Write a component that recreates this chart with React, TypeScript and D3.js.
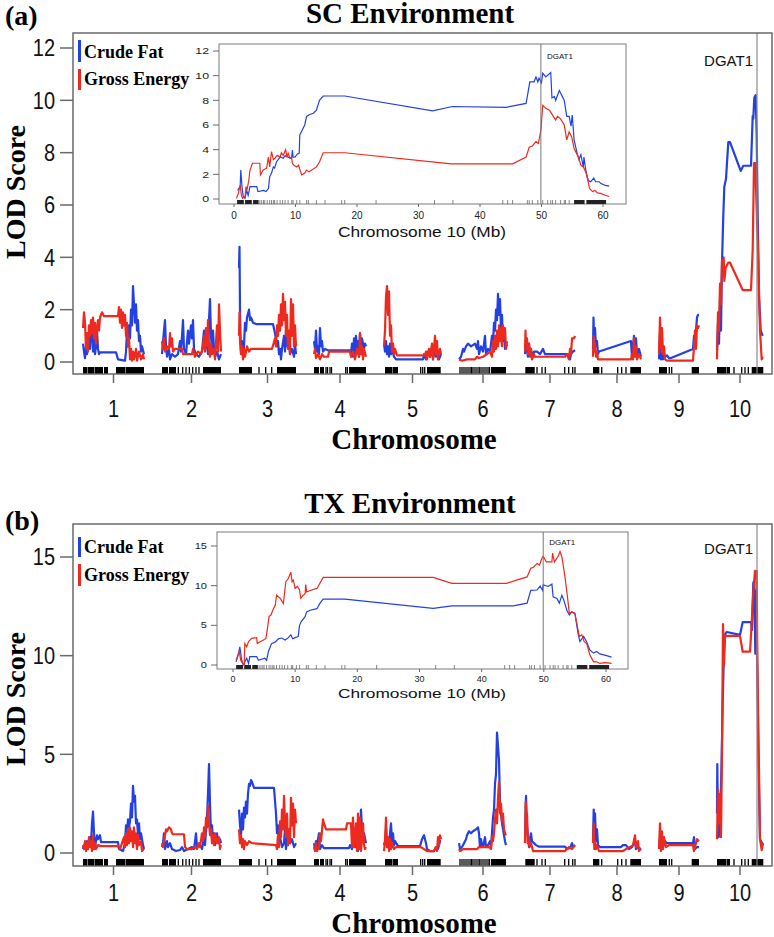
import React from 'react';
import * as d3 from 'd3';

type Pt = [number, number];

// genome layout (map units per chromosome)
const chromosomes = ['1', '2', '3', '4', '5', '6', '7', '8', '9', '10'];
const chrLengths = [61, 59, 57, 52, 57, 48, 50, 48, 40, 46];
const chrGap = 18;
const dgat1Pos = 40; // position on chr 10 (map units)
const dgat1Mb = 49.9;

// SC environment, LOD per chromosome: [position, LOD]
const scCrudeFat: Pt[][] = [
  [[0,0.7],[1,0.4],[2,0.15],[3,0.6],[4,0.3],[6,1.0],[7,0.5],[9,1.6],[10,0.4],[11,0.9],[12,0.3],[13,0.6],[14,1.2],[15,0.5],[16,0.3],[17,0.37],[33,0.37],[35,0.1],[42,0.05],[43,0.4],[44,1.2],[45,0.6],[46,1.4],[47,0.9],[48,2.0],[49,1.4],[50,2.9],[51,2.2],[52,1.5],[53,2.2],[54,1.2],[55,1.6],[56,0.8],[57,1.0],[58,0.4],[59,0.6],[61,0.3]],
  [[0,0.3],[1,0.8],[3,1.6],[4,0.6],[5,0.2],[7,0.5],[8,0.1],[10,0.3],[13,0.2],[16,0.3],[18,0.8],[19,0.4],[21,1.6],[22,0.5],[24,0.3],[26,1.2],[27,0.7],[29,1.4],[30,0.9],[31,1.6],[32,0.5],[34,0.3],[37,0.2],[40,0.4],[42,1.2],[43,0.5],[44,1.0],[46,0.3],[47,1.6],[48,2.4],[49,1.0],[50,0.4],[51,1.2],[52,0.5],[53,0.2],[55,0.4],[57,0.1],[59,0.3]],
  [[0,3.6],[0.5,4.4],[1,2.0],[1.5,1.0],[2,0.4],[3,0.8],[4,0.3],[5,0.6],[6,1.5],[7,1.2],[8,1.7],[10,2.0],[11,1.6],[12,1.7],[14,1.5],[17,1.45],[34,1.45],[36,1.1],[38,0.6],[39,0.8],[40,0.3],[41,0.5],[42,0.1],[43,0.5],[45,1.0],[46,0.4],[47,1.2],[48,0.6],[50,0.9],[51,0.3],[53,0.5],[55,0.2],[56,0.7],[57,0.3]],
  [[0,0.8],[1,0.5],[2,1.2],[3,0.4],[4,0.6],[5,0.3],[6,1.3],[7,0.6],[8,0.8],[9,0.4],[11,0.5],[14,0.45],[36,0.45],[37,0.3],[38,0.7],[39,0.2],[40,0.9],[41,0.3],[42,1.0],[43,0.5],[44,0.8],[45,0.2],[46,1.1],[47,0.4],[48,0.9],[50,0.5],[51,0.7],[52,0.6]],
  [[0,0.7],[1,0.4],[2,0.8],[3,0.3],[4,0.6],[5,0.2],[6,0.7],[7,0.3],[8,0.5],[10,0.2],[12,0.1],[39,0.1],[40,0.3],[42,0.1],[44,0.4],[46,0.2],[48,0.5],[49,0.1],[51,0.6],[52,0.2],[54,0.4],[55,0.1],[57,0.3]],
  [[0,0.1],[2,0.2],[4,0.5],[5,0.4],[7,0.6],[9,0.7],[12,0.6],[16,0.7],[18,0.5],[19,0.8],[20,0.3],[22,0.6],[24,0.4],[26,1.0],[27,0.3],[29,0.5],[31,0.4],[33,1.0],[34,0.7],[35,1.5],[36,1.2],[37,2.0],[38,1.6],[39,2.6],[40,1.8],[41,2.4],[42,1.2],[43,1.8],[44,0.8],[45,1.2],[46,0.5],[47,0.7],[48,0.6]],
  [[0,0.3],[1,0.9],[2,0.5],[3,0.2],[4,0.7],[5,0.3],[6,0.5],[7,0.2],[9,0.4],[12,0.4],[15,0.3],[18,0.5],[20,0.3],[43,0.3],[45,0.1],[46,0.3],[48,0.4],[50,0.45]],
  [[0,0.5],[0.5,1.7],[1,1.0],[2,1.3],[3,0.6],[4,0.8],[5,0.3],[6,0.4],[38,0.8],[39,0.2],[40,0.6],[41,1.0],[42,0.3],[43,0.9],[44,0.3],[46,0.5],[48,0.2]],
  [[0,0.1],[1,1.1],[2,0.1],[3,0.3],[4,0.1],[5,0.3],[6,0.2],[8,0.25],[10,0.15],[12,0.15],[34,0.5],[35,1.0],[36,0.6],[37,1.2],[38,1.7],[39,1.8],[40,1.8]],
  [[0,0.46],[1,1.5],[2,0.7],[3,2.4],[4,1.2],[5,3.8],[6.3,5.6],[7.3,6.7],[9,7.0],[11.3,8.4],[13,8.4],[23.7,7.3],[26.3,7.5],[34,7.5],[35.7,9.4],[36.3,9.3],[37.3,10.1],[38.7,10.2],[39.7,8.6],[40.7,5.6],[42,2.5],[43.7,1.2],[45.7,1.0]],
];

const scGrossEnergy: Pt[][] = [
  [[0,1.3],[1,1.9],[2,1.5],[3,0.5],[4,1.1],[5,0.4],[6,1.4],[7,1.0],[8,1.6],[9,1.1],[10,1.7],[11,0.9],[12,1.5],[13,0.7],[14,1.3],[15,1.6],[16,1.2],[17,1.7],[19,1.9],[21,1.75],[35,1.75],[36,2.1],[37,1.5],[38,2.0],[39,1.3],[40,1.9],[41,1.4],[42,1.8],[43,1.0],[44,1.5],[45,0.6],[46,0.9],[47,0.1],[48,0.5],[49,0.05],[50,0.4],[51,0.1],[53,0.5],[54,0.05],[56,0.4],[58,0.1],[60,0.3],[61,0.1]],
  [[0,0.8],[1,0.5],[2,0.9],[3,0.4],[5,0.6],[7,0.5],[8,1.1],[9,0.6],[10,0.9],[11,0.4],[13,0.5],[20,0.5],[21,0.3],[30,0.3],[31,0.5],[33,0.2],[36,0.4],[39,0.3],[41,0.6],[42,1.0],[43,0.4],[44,1.3],[45,0.6],[46,1.6],[47,0.5],[48,0.2],[49,0.7],[50,0.3],[52,0.5],[53,0.1],[55,1.4],[56,0.4],[57,2.2],[58,1.2],[59,0.4]],
  [[0,1.0],[0.5,1.9],[1,0.8],[2,0.3],[3,0.6],[4,0.1],[5,0.5],[6,0.2],[8,0.6],[10,0.4],[12,0.5],[33,0.5],[36,0.9],[37,0.6],[38,1.4],[39,1.0],[40,1.8],[41,1.2],[42,2.2],[43,1.4],[44,2.6],[45,1.6],[46,2.3],[47,1.0],[48,1.8],[49,0.5],[50,1.2],[51,0.3],[52,2.4],[53,1.0],[54,2.2],[55,0.6],[56,1.4],[57,0.6]],
  [[0,0.3],[1,0.5],[2,0.15],[4,0.3],[6,0.1],[8,0.3],[10,0.2],[14,0.2],[15,0.4],[36,0.4],[37,0.2],[39,0.4],[41,0.1],[43,0.5],[45,0.2],[46,1.1],[47,0.3],[48,0.6],[49,0.1],[50,0.5],[52,0.2]],
  [[0,0.6],[1,1.2],[2,2.5],[3,2.9],[4,1.8],[5,2.7],[6,1.0],[7,1.4],[8,0.4],[9,0.7],[10,0.3],[11,0.5],[13,0.25],[41,0.25],[42,0.4],[43,0.1],[45,0.5],[46,0.2],[48,0.7],[49,0.1],[50,0.5],[51,1.0],[52,0.3],[53,0.8],[54,0.1],[56,0.5],[57,0.3]],
  [[0,0.1],[3,0.05],[8,0.1],[16,0.1],[18,0.2],[20,0.15],[24,0.2],[28,0.3],[31,0.4],[33,0.2],[34,0.8],[35,0.4],[36,1.0],[37,0.5],[38,1.2],[39,0.6],[40,1.4],[41,0.8],[42,1.3],[43,0.6],[44,1.4],[45,0.9],[46,1.3],[47,0.5],[48,0.8]],
  [[0,0.4],[0.5,1.2],[1,0.5],[2,0.9],[3,0.3],[4,0.7],[5,0.2],[6,0.5],[7,0.1],[9,0.3],[10,0.2],[40,0.2],[42,0.3],[44,0.1],[45,0.5],[46,0.3],[47,0.9],[49,0.9],[50,1.0]],
  [[0,0.2],[0.5,1.0],[1,0.4],[2,0.7],[3,0.2],[4,0.4],[5,0.1],[38,0.1],[39,0.3],[40,0.1],[41,0.9],[42,0.2],[43,0.6],[44,0.1],[46,0.3],[48,0.1]],
  [[0,0.3],[1,1.7],[2,0.5],[3,1.3],[4,0.3],[5,0.6],[6,0.1],[8,0.05],[34,0.05],[35,0.6],[36,1.2],[37,0.5],[38,1.4],[39,1.3],[40,1.4]],
  [[0,0.1],[1,1.9],[2,1.2],[3,3.0],[4,2.2],[5,3.9],[6,3.3],[6.7,4.0],[7.3,3.1],[8.7,3.6],[11.3,3.8],[13,3.8],[25.7,2.75],[34,2.75],[35.7,4.3],[37,7.6],[38.3,7.6],[39.3,6.3],[41.3,3.8],[43,1.2],[44.7,0.1],[45.7,0.2]],
];

// TX environment
const txCrudeFat: Pt[][] = [
  [[0,0.2],[1,0.4],[3,0.2],[4,0.6],[6,0.4],[7,0.8],[8,0.5],[9,1.5],[10,2.1],[11,1.0],[12,0.3],[13,0.6],[14,0.9],[15,0.7],[17,0.9],[18,0.55],[35,0.55],[36,0.2],[40,0.1],[42,0.5],[43,1.4],[44,1.0],[45,1.7],[46,1.3],[47,1.6],[48,2.5],[49,1.8],[50,3.4],[51,2.6],[52,2.9],[53,1.5],[54,1.7],[55,0.9],[56,1.5],[57,0.7],[58,1.0],[60,0.4],[61,0.2]],
  [[0,0.3],[1,0.5],[2,1.0],[3,0.2],[5,0.6],[6,0.3],[8,0.5],[10,0.2],[12,0.15],[14,0.1],[18,0.15],[20,0.3],[22,0.1],[26,0.2],[30,0.3],[32,0.2],[34,1.0],[35,0.3],[38,0.4],[40,0.2],[42,0.8],[43,0.4],[45,1.8],[46,3.0],[47,4.5],[48,2.5],[49,1.0],[50,1.4],[51,0.6],[52,1.0],[53,0.4],[55,1.0],[56,0.5],[58,0.7],[59,0.5]],
  [[0,2.2],[1,1.4],[2,0.9],[3,2.0],[4,1.2],[5,2.3],[6,1.8],[7,2.6],[8,2.0],[9,3.0],[10,3.5],[11,3.4],[12,3.7],[13,3.6],[15,3.3],[35,3.3],[37,2.0],[38,1.0],[39,1.4],[40,0.5],[41,0.8],[43,0.3],[45,0.5],[46,1.2],[47,0.2],[48,0.8],[49,0.4],[50,1.0],[51,0.5],[53,0.7],[55,0.3],[57,0.5]],
  [[0,0.5],[1,0.2],[2,0.6],[3,0.3],[4,0.7],[5,1.0],[6,0.2],[8,0.4],[10,0.25],[35,0.25],[36,0.4],[38,0.2],[40,1.0],[41,0.3],[43,0.6],[44,0.1],[46,1.0],[47,2.2],[48,1.2],[49,0.6],[50,1.0],[52,0.5]],
  [[0,0.4],[1,0.6],[2,1.2],[3,0.3],[4,0.7],[5,0.4],[6,1.0],[7,1.5],[8,0.6],[9,1.0],[10,0.4],[11,0.6],[14,0.35],[36,0.35],[38,0.7],[40,0.9],[42,0.5],[43,0.2],[46,0.1],[50,0.1],[52,0.3],[54,0.2],[56,0.6],[57,0.6]],
  [[0,0.5],[1,0.2],[3,0.3],[5,0.5],[7,0.7],[8,0.9],[10,1.1],[12,1.0],[14,1.1],[17,1.2],[19,1.3],[20,1.0],[21,0.3],[22,0.7],[23,0.4],[24,0.3],[26,0.8],[27,0.3],[29,0.4],[31,0.6],[32,0.3],[34,1.8],[35,2.2],[36,3.5],[37,4.0],[38,6.1],[39,5.4],[40,4.7],[41,2.6],[42,2.0],[43,1.5],[45,0.9],[46,0.6],[47,0.4]],
  [[0,0.8],[1,2.9],[2,1.5],[3,0.8],[4,0.3],[5,0.7],[6,1.0],[7,0.6],[9,0.5],[11,0.4],[14,0.32],[40,0.32],[42,0.2],[45,0.25],[47,0.5],[48,0.3],[50,0.4]],
  [[0,0.6],[0.7,2.2],[1.3,1.5],[2,2.0],[3,0.6],[4,1.2],[5,0.4],[7,0.3],[28,0.3],[30,0.4],[33,0.4],[36,0.2],[39,0.3],[42,0.6],[43,0.2],[45,0.3],[48,0.2]],
  [[0,0.3],[1,0.8],[2,0.2],[3,0.9],[4,0.3],[6,0.6],[8,0.5],[10,0.5],[34,0.5],[35,0.8],[36,0.2],[38,0.3],[40,0.3]],
  [[0,2.0],[0.3,4.5],[1,1.5],[1.7,0.8],[3,1.5],[4.3,4.0],[5.7,7.6],[7,10.3],[8.3,11.1],[9.7,11.2],[23,11.05],[25.7,11.7],[34,11.7],[35,11.3],[36.3,13.7],[37.3,13.8],[38.3,10.1],[39,13.3],[39.7,11.6],[41.3,5.2],[43,0.7],[46,0.4]],
];

const txGrossEnergy: Pt[][] = [
  [[0,0.4],[1,0.2],[2,0.6],[3,0.1],[4,0.5],[5,0.2],[6,0.8],[7,0.3],[8,0.6],[9,0.1],[10,0.9],[11,0.2],[12,0.5],[13,0.2],[15,0.4],[18,0.35],[35,0.35],[37,0.2],[39,0.5],[41,0.8],[42,0.3],[43,1.0],[44,0.4],[45,1.2],[46,0.5],[47,1.3],[48,0.6],[49,1.1],[50,0.3],[51,1.3],[52,0.5],[53,1.0],[54,0.2],[55,0.9],[56,0.4],[58,0.6],[59,0.1],[61,0.2]],
  [[0,0.5],[1,0.3],[3,0.9],[4,1.2],[5,1.1],[7,1.3],[9,1.2],[10,1.0],[11,0.95],[22,0.95],[23,0.3],[25,0.2],[30,0.2],[33,0.3],[35,0.2],[37,0.5],[38,0.3],[40,1.0],[41,0.6],[42,1.3],[43,0.8],[44,1.8],[45,1.3],[46,2.4],[47,1.5],[48,0.9],[49,1.2],[50,0.5],[51,0.9],[52,0.4],[53,1.0],[55,0.5],[57,0.8],[58,0.2],[59,0.4]],
  [[0,1.2],[1,0.5],[2,0.9],[3,0.3],[4,0.7],[5,0.2],[6,0.6],[8,0.4],[10,0.6],[13,0.5],[37,0.4],[38,0.2],[39,0.9],[40,0.3],[41,1.6],[42,0.8],[43,2.2],[44,1.2],[45,2.9],[46,1.5],[47,0.8],[48,2.0],[49,0.4],[50,1.2],[51,0.5],[52,2.8],[53,1.4],[54,2.5],[55,0.8],[56,2.2],[57,1.5]],
  [[0,0.3],[1,0.1],[2,0.5],[3,0.1],[5,0.3],[6,1.0],[7,0.6],[9,1.7],[10,1.5],[12,1.2],[32,1.2],[33,1.5],[37,1.5],[38,0.3],[39,1.8],[40,0.3],[42,1.5],[43,0.1],[44,2.0],[45,0.2],[46,1.8],[47,0.1],[49,1.5],[50,0.4],[51,0.2],[52,0.3]],
  [[0,0.1],[1,0.6],[2,1.8],[3,0.3],[4,0.8],[5,0.1],[6,0.7],[7,0.2],[8,0.5],[10,0.2],[12,0.3],[37,0.3],[40,0.2],[43,0.1],[50,0.1],[52,0.3],[53,0.1],[54,0.8],[55,0.4],[56,0.9],[57,0.7]],
  [[0,0.2],[1,0.1],[4,0.2],[18,0.2],[20,0.3],[30,0.3],[32,0.2],[33,0.8],[34,0.6],[35,1.0],[36,1.7],[37,2.2],[38,1.5],[39,2.8],[40,3.6],[41,2.0],[42,2.5],[43,1.6],[44,2.0],[45,1.2],[46,1.0],[47,0.9]],
  [[0,0.5],[0.7,2.6],[1.3,1.3],[2,2.0],[2.7,0.5],[3.5,0.8],[4.5,0.3],[6,0.5],[8,0.1],[40,0.1],[44,0.3],[47,0.2],[50,0.4]],
  [[0,0.5],[0.7,1.5],[1.3,0.2],[2,0.6],[3,0.2],[4,0.4],[6,0.1],[30,0.1],[33,0.2],[37,0.3],[40,0.4],[42,0.9],[43,0.3],[45,0.6],[46,0.1],[48,0.2]],
  [[0,0.2],[1,1.5],[2,0.1],[3,1.1],[4,0.2],[5,0.8],[7,0.3],[10,0.4],[34,0.4],[35,0.1],[37,0.5],[38,0.7],[40,0.6]],
  [[0,0.7],[1,3.2],[2,1.5],[3,3.0],[4,0.8],[5,5.0],[6,11.6],[7,9.5],[8,11.0],[23,11.0],[25.7,10.2],[33,10.2],[34,11.0],[36.3,13.2],[38,14.3],[39,13.9],[39.7,14.3],[40.3,9.9],[41.3,6.5],[43,0.7],[44.7,0.15],[46,0.5]],
];

// chromosome 10 insets: [Mb, LOD]
const scInsetCrudeFat: Pt[] = [[0.6,0.7],[1.0,1.0],[1.1,2.35],[1.3,1.0],[1.5,0.2],[1.8,0.05],[2.05,0.7],[2.3,0.3],[2.6,1.0],[3.7,1.0],[3.9,0.6],[4.8,0.7],[5.2,0.6],[5.6,0.85],[5.8,1.8],[6.1,2.1],[6.4,2.6],[6.6,2.5],[6.9,3.0],[7.5,3.4],[8.0,3.3],[8.3,3.5],[8.8,3.4],[9.35,3.3],[9.5,3.97],[9.6,3.4],[9.9,3.4],[10.3,3.65],[10.6,3.7],[10.7,5.2],[11.1,5.6],[11.5,6.0],[11.8,6.7],[12.3,6.85],[12.9,6.95],[13.4,7.2],[13.9,8.0],[14.5,8.35],[18.0,8.35],[32.3,7.15],[35.5,7.5],[44.2,7.43],[47.5,7.75],[48.1,9.5],[48.8,9.5],[49.1,9.9],[49.4,9.5],[49.6,9.8],[50.0,9.4],[50.2,10.2],[50.7,9.9],[51.5,10.25],[51.7,8.2],[52.1,8.3],[52.3,8.0],[52.9,8.8],[53.1,8.6],[53.4,8.3],[53.7,8.0],[54.1,6.7],[54.5,6.7],[54.8,5.9],[55.0,6.8],[55.3,4.8],[55.8,3.7],[56.1,3.2],[56.4,3.6],[56.8,2.6],[56.9,3.4],[57.2,2.35],[57.6,1.5],[58.0,1.4],[58.5,1.7],[58.8,1.4],[59.4,1.4],[59.6,1.27],[60.4,1.1],[61.0,1.05]];
const scInsetGrossEnergy: Pt[] = [[0.4,0.05],[0.7,0.45],[1.0,1.1],[1.2,0.3],[1.4,0.05],[1.8,0.2],[1.95,1.0],[2.1,0.7],[2.4,1.5],[2.6,2.35],[3.0,2.9],[4.2,2.9],[4.3,1.95],[4.75,2.35],[5.3,2.5],[5.6,3.4],[5.8,2.6],[6.1,3.85],[6.4,3.2],[6.65,3.3],[7.0,3.55],[7.5,3.4],[7.7,3.75],[8.0,3.55],[8.4,4.0],[8.6,3.4],[8.8,3.7],[9.1,3.3],[9.35,3.4],[9.5,2.9],[9.7,2.75],[10.2,2.6],[10.5,2.75],[10.7,2.4],[11.0,1.95],[11.5,2.1],[11.8,2.35],[12.2,2.2],[13.4,2.6],[13.9,3.0],[14.5,3.75],[18.0,3.75],[35.3,2.85],[45.3,2.85],[47.5,3.4],[48.0,4.2],[48.5,4.3],[49.1,4.65],[49.5,4.5],[49.9,5.6],[50.2,7.6],[50.7,7.35],[51.3,7.2],[51.8,6.8],[52.3,6.4],[52.6,6.7],[53.1,6.5],[53.7,6.0],[54.1,4.8],[54.5,5.45],[54.9,5.05],[55.3,4.1],[55.7,3.7],[56.0,3.4],[56.4,2.75],[56.8,2.6],[57.2,2.2],[57.6,1.4],[57.8,0.85],[58.3,0.6],[58.7,0.7],[59.1,0.5],[59.6,0.45],[60.4,0.3],[61.0,0.2]];
const txInsetCrudeFat: Pt[] = [[0.5,0.4],[0.85,1.3],[1.1,2.3],[1.4,0.6],[1.65,0.0],[1.9,0.4],[2.2,0.85],[2.5,0.2],[2.7,1.05],[3.8,1.05],[4.1,0.6],[5.1,0.85],[5.4,0.6],[5.7,1.7],[5.9,2.1],[6.2,2.7],[6.8,2.9],[7.3,3.3],[7.8,3.4],[8.4,3.15],[8.9,3.45],[9.3,3.8],[9.6,3.3],[10.0,3.45],[10.5,3.6],[10.7,5.0],[11.0,5.5],[11.6,6.1],[11.85,6.7],[12.4,6.9],[13.5,7.1],[14.0,7.8],[14.5,8.3],[18.0,8.3],[32.2,7.15],[35.2,7.45],[45.1,7.45],[47.3,7.8],[47.9,9.4],[48.9,9.45],[49.4,9.95],[49.8,9.4],[49.9,10.1],[50.7,9.9],[51.3,10.2],[51.5,8.6],[52.1,8.4],[52.5,7.8],[52.9,8.8],[53.2,8.2],[53.7,6.9],[54.1,6.3],[54.5,6.7],[55.0,6.5],[55.5,4.0],[55.8,2.95],[56.4,3.6],[56.9,2.9],[57.4,1.9],[58.0,1.5],[58.5,1.7],[59.0,1.4],[59.8,1.25],[60.9,1.0]];
const txInsetGrossEnergy: Pt[] = [[0.5,0.6],[0.7,1.05],[1.0,1.7],[1.25,0.6],[1.55,0.2],[1.8,0.0],[1.9,2.7],[2.2,2.3],[2.5,2.95],[3.0,3.35],[3.8,3.45],[3.9,2.7],[4.3,2.9],[4.9,3.15],[5.3,3.35],[5.5,4.4],[5.8,6.1],[6.1,6.3],[6.4,6.9],[6.8,7.55],[7.0,8.8],[7.6,8.4],[8.1,7.75],[8.5,10.5],[8.9,10.9],[9.3,11.7],[9.5,10.5],[9.7,10.7],[10.0,9.65],[10.35,9.9],[10.7,9.45],[10.9,8.4],[11.3,8.8],[11.6,9.0],[11.7,10.15],[11.85,9.2],[12.65,9.45],[13.5,9.65],[14.5,11.05],[32.2,11.05],[35.2,10.3],[44.0,10.3],[45.6,10.7],[47.3,11.1],[47.9,12.2],[48.3,12.3],[48.9,12.8],[49.3,12.6],[49.7,13.45],[49.9,13.7],[50.4,13.0],[51.3,13.0],[51.4,14.1],[51.7,13.0],[52.3,13.7],[52.6,14.3],[52.9,13.65],[53.4,11.1],[53.8,8.6],[54.1,6.5],[54.5,6.7],[55.0,6.5],[55.3,5.25],[55.7,3.6],[56.1,3.8],[56.5,2.95],[56.9,2.7],[57.4,1.3],[58.0,0.4],[58.5,0.4],[59.0,0.2],[59.8,0.3],[60.9,0.2]];

// genotyped markers: dense runs [from, to] and single markers, per chromosome
const markerBlocks: Pt[][] = [
  [[0,4.5],[5,11],[11.5,20],[21,25],[33,42],[42.5,61]],
  [[0,6],[7,14],[41,59]],
  [[0,13],[38,57]],
  [[0,5],[6,10],[35,52]],
  [[1,8],[8.5,14],[43,56.7]],
  [[32,47]],
  [[0.3,9.7]],
  [[0,6.3],[37.3,48]],
  [[0,8],[32.7,40]],
  [[0,9],[9.5,13],[34.7,46.3]],
];
const markerSingles: number[][] = [
  [],
  [16.3,20.7,24,27.3,30.7,34,37],
  [20,26.7,32.7],
  [12,13.5,16,17.5,31.7,33.3],
  [36.7,38.7,40.7],
  [1,3,5,7,9,11,12.5,14,16,18,20,21,23,25,27,29,30.5],
  [12,17,20.3,39.7,43.7,47.7,50],
  [8.7,24.7,28.7,33],
  [10.3,12.7],
  [17,24.7,28,31.3],
];
const insetMarkerBlocks: Pt[] = [[0.5,1.6],[1.8,2.9],[3.1,4.0],[55.3,57.0],[57.3,60.5]];
const insetMarkerSingles: number[] = [4.2,4.5,4.8,5.0,5.4,5.8,6.1,6.4,6.6,7.0,7.5,7.9,8.3,8.8,9.4,9.6,10.2,10.7,11.8,12.1,13.4,14.8,17.5,18.0,23.1,32.6,35.6,43.7,44.5,45.3,47.7,48.0,48.5,49.4,50.2,51.0,51.5,51.8,52.3,53.1,53.7,53.9,54.5];

const scTicks = [0, 2, 4, 6, 8, 10, 12];
const txTicks = [0, 5, 10, 15];
const insetMbTicks = [0, 10, 20, 30, 40, 50, 60];

const BLUE = '#2341e2';
const RED = '#ee2a1f';
const SANS = '"Liberation Sans", Arial, Helvetica, sans-serif';
const SERIF = '"Liberation Serif", "Times New Roman", serif';
const AXIS = '#6a6a6a';

const chrStarts = chrLengths.map((_, i) => d3.sum(chrLengths.slice(0, i)) + i * chrGap);
const genomeLength = chrStarts[9] + chrLengths[9];

interface PanelCfg {
  tag: string; title: string; tagY: number; titleY: number;
  boxTop: number; boxBottom: number; yMax: number; yZeroPx: number; yMaxPx: number; ticks: number[];
  tickLabelY: number; xTitleY: number; yTitleY: number;
  legendBlue: [number, number, number]; legendRed: [number, number, number]; dgatLabelY: number;
  inset: { x0: number; x1: number; y0: number; y1: number; mb0: number; mb60: number; yMax: number; yZeroPx: number; yMaxPx: number; ticks: number[]; tickLabelY: number; tickFont: number; titleY: number; titleFont: number; dgatLabelY: number; };
}

const panelA: PanelCfg = {
  tag: '(a)', title: 'SC Environment', tagY: 25, titleY: 23,
  boxTop: 33, boxBottom: 374, yMax: 12, yZeroPx: 362, yMaxPx: 48, ticks: scTicks,
  tickLabelY: 409, xTitleY: 449, yTitleY: 192,
  legendBlue: [40, 62, 58], legendRed: [69, 90, 85], dgatLabelY: 66,
  inset: { x0: 219, x1: 626, y0: 44, y1: 204, mb0: 234, mb60: 603, yMax: 12, yZeroPx: 199, yMaxPx: 51, ticks: scTicks, tickLabelY: 215, tickFont: 10, titleY: 237, titleFont: 14, dgatLabelY: 59 },
};
const panelB: PanelCfg = {
  tag: '(b)', title: 'TX Environment', tagY: 530, titleY: 513,
  boxTop: 524, boxBottom: 866, yMax: 15, yZeroPx: 853, yMaxPx: 557, ticks: txTicks,
  tickLabelY: 893, xTitleY: 933, yTitleY: 699,
  legendBlue: [537, 557, 553], legendRed: [564, 586, 581], dgatLabelY: 554,
  inset: { x0: 217, x1: 628, y0: 532, y1: 669, mb0: 233, mb60: 606, yMax: 15, yZeroPx: 665, yMaxPx: 546, ticks: txTicks, tickLabelY: 679, tickFont: 9, titleY: 698, titleFont: 12, dgatLabelY: 545 },
};

const Panel = ({ cfg, crudeFat, grossEnergy, insetFat, insetEnergy }: { cfg: PanelCfg; crudeFat: Pt[][]; grossEnergy: Pt[][]; insetFat: Pt[]; insetEnergy: Pt[] }) => {
  const boxLeft = 73;
  const boxRight = 772;
  const x = d3.scaleLinear().domain([0, genomeLength]).range([83, 763]);
  const y = d3.scaleLinear().domain([0, cfg.yMax]).range([cfg.yZeroPx, cfg.yMaxPx]);
  const line = d3.line<Pt>().x((d) => x(d[0])).y((d) => y(d[1]));
  const chrPath = (series: Pt[][], i: number) => line(series[i].map(([p, v]) => [chrStarts[i] + p, v] as Pt)) || '';

  const ins = cfg.inset;
  const xi = d3.scaleLinear().domain([0, 60]).range([ins.mb0, ins.mb60]);
  const yi = d3.scaleLinear().domain([0, ins.yMax]).range([ins.yZeroPx, ins.yMaxPx]);
  const insetLine = d3.line<Pt>().x((d) => xi(d[0])).y((d) => yi(d[1]));

  const dgatX = x(chrStarts[9] + dgat1Pos);
  const rugTop = cfg.boxBottom - 7;

  return (
    <g>
      <text x={5} y={cfg.tagY} fontFamily={SERIF} fontWeight="bold" fontSize={28}>{cfg.tag}</text>
      <text x={410} y={cfg.titleY} fontFamily={SERIF} fontWeight="bold" fontSize={29} textAnchor="middle">{cfg.title}</text>

      {/* y axis */}
      {cfg.ticks.map((t) => (
        <g key={t}>
          <line x1={60} x2={boxLeft} y1={y(t)} y2={y(t)} stroke={AXIS} strokeWidth={1.5} />
          <text transform={`translate(55,${y(t)}) scale(1,1.15)`} dy="0.36em" textAnchor="end" fontFamily={SANS} fontSize={20} fill="#111">{t}</text>
        </g>
      ))}
      <text transform={`translate(25,${cfg.yTitleY}) rotate(-90)`} textAnchor="middle" fontFamily={SERIF} fontWeight="bold" fontSize={28}>LOD Score</text>

      {/* x axis */}
      {chromosomes.map((c, i) => {
        const cx = x(chrStarts[i] + chrLengths[i] / 2);
        return (
          <g key={c}>
            <line x1={cx} x2={cx} y1={cfg.boxBottom} y2={cfg.boxBottom + 9} stroke={AXIS} strokeWidth={1.5} />
            <text transform={`translate(${cx},${cfg.tickLabelY}) scale(1,1.15)`} dy="0.36em" textAnchor="middle" fontFamily={SANS} fontSize={20} fill="#111">{c}</text>
          </g>
        );
      })}
      <text x={414} y={cfg.xTitleY} textAnchor="middle" fontFamily={SERIF} fontWeight="bold" fontSize={29}>Chromosome</text>

      {/* marker rug */}
      {markerBlocks.map((blocks, i) =>
        blocks.map(([a, b], j) => (
          <rect key={`b${i}-${j}`} x={x(chrStarts[i] + a)} y={rugTop} width={Math.max(1, x(chrStarts[i] + b) - x(chrStarts[i] + a))} height={7} fill="#000" />
        ))
      )}
      {markerSingles.map((ms, i) =>
        ms.map((m, j) => (
          <line key={`s${i}-${j}`} x1={x(chrStarts[i] + m)} x2={x(chrStarts[i] + m)} y1={rugTop} y2={cfg.boxBottom} stroke="#000" strokeWidth={1.3} />
        ))
      )}

      {/* LOD curves */}
      {chromosomes.map((c, i) => (
        <path key={`f${c}`} d={chrPath(crudeFat, i)} fill="none" stroke={BLUE} strokeWidth={2.2} strokeLinejoin="round" />
      ))}
      {chromosomes.map((c, i) => (
        <path key={`e${c}`} d={chrPath(grossEnergy, i)} fill="none" stroke={RED} strokeWidth={2.2} strokeLinejoin="round" />
      ))}

      <line x1={dgatX} x2={dgatX} y1={cfg.boxTop} y2={cfg.boxBottom} stroke="#8a8a8a" strokeWidth={1.2} />
      <text x={753} y={cfg.dgatLabelY} textAnchor="end" fontFamily={SANS} fontSize={15} fill="#111">DGAT1</text>

      <rect x={boxLeft} y={cfg.boxTop} width={boxRight - boxLeft} height={cfg.boxBottom - cfg.boxTop} fill="none" stroke={AXIS} strokeWidth={1.5} />

      {/* legend */}
      <rect x={78} y={cfg.legendBlue[0]} width={3} height={cfg.legendBlue[1] - cfg.legendBlue[0]} fill={BLUE} />
      <text x={84} y={cfg.legendBlue[2]} fontFamily={SERIF} fontWeight="bold" fontSize={18}>Crude Fat</text>
      <rect x={78} y={cfg.legendRed[0]} width={3} height={cfg.legendRed[1] - cfg.legendRed[0]} fill={RED} />
      <text x={84} y={cfg.legendRed[2]} fontFamily={SERIF} fontWeight="bold" fontSize={18}>Gross Energy</text>

      {/* chromosome 10 inset */}
      <rect x={ins.x0} y={ins.y0} width={ins.x1 - ins.x0} height={ins.y1 - ins.y0} fill="#fff" stroke="#7a7a7a" strokeWidth={1} />
      {ins.ticks.map((t) => (
        <g key={`it${t}`}>
          <line x1={ins.x0 - 6} x2={ins.x0} y1={yi(t)} y2={yi(t)} stroke={AXIS} strokeWidth={1} />
          <text transform={`translate(${ins.x0 - 10},${yi(t)}) scale(1.3,1)`} dy="0.36em" textAnchor="end" fontFamily={SANS} fontSize={ins.tickFont - 0.5} fill="#222">{t}</text>
        </g>
      ))}
      {insetMbTicks.map((t) => (
        <g key={`im${t}`}>
          <line x1={xi(t)} x2={xi(t)} y1={ins.y1} y2={ins.y1 + 3} stroke={AXIS} strokeWidth={1} />
          <text x={xi(t)} y={ins.tickLabelY} dy="0.36em" textAnchor="middle" fontFamily={SANS} fontSize={ins.tickFont} fill="#222">{t}</text>
        </g>
      ))}
      <text x={422} y={ins.titleY} textAnchor="middle" fontFamily={SANS} fontSize={ins.titleFont} textLength={168} lengthAdjust="spacingAndGlyphs" fill="#111">Chromosome 10 (Mb)</text>
      {insetMarkerBlocks.map(([a, b], j) => (
        <rect key={`ib${j}`} x={xi(a)} y={ins.y1 - 4} width={xi(b) - xi(a)} height={4} fill="#222" />
      ))}
      {insetMarkerSingles.map((m, j) => (
        <line key={`is${j}`} x1={xi(m)} x2={xi(m)} y1={ins.y1 - 4} y2={ins.y1} stroke="#555" strokeWidth={0.7} />
      ))}
      <path d={insetLine(insetFat) || ''} fill="none" stroke={BLUE} strokeWidth={1.2} />
      <path d={insetLine(insetEnergy) || ''} fill="none" stroke={RED} strokeWidth={1.2} />
      <line x1={xi(dgat1Mb)} x2={xi(dgat1Mb)} y1={ins.y0} y2={ins.y1} stroke="#777" strokeWidth={1} />
      <text x={xi(dgat1Mb) + 6} y={ins.dgatLabelY} fontFamily={SANS} fontSize={8} fill="#111">DGAT1</text>
    </g>
  );
};

export default function App() {
  return (
    <svg width={774} height={937} style={{ position: 'absolute', left: 0, top: 0, background: '#fff' }}>
      <rect width={774} height={937} fill="#fff" />
      <Panel cfg={panelA} crudeFat={scCrudeFat} grossEnergy={scGrossEnergy} insetFat={scInsetCrudeFat} insetEnergy={scInsetGrossEnergy} />
      <Panel cfg={panelB} crudeFat={txCrudeFat} grossEnergy={txGrossEnergy} insetFat={txInsetCrudeFat} insetEnergy={txInsetGrossEnergy} />
    </svg>
  );
}
